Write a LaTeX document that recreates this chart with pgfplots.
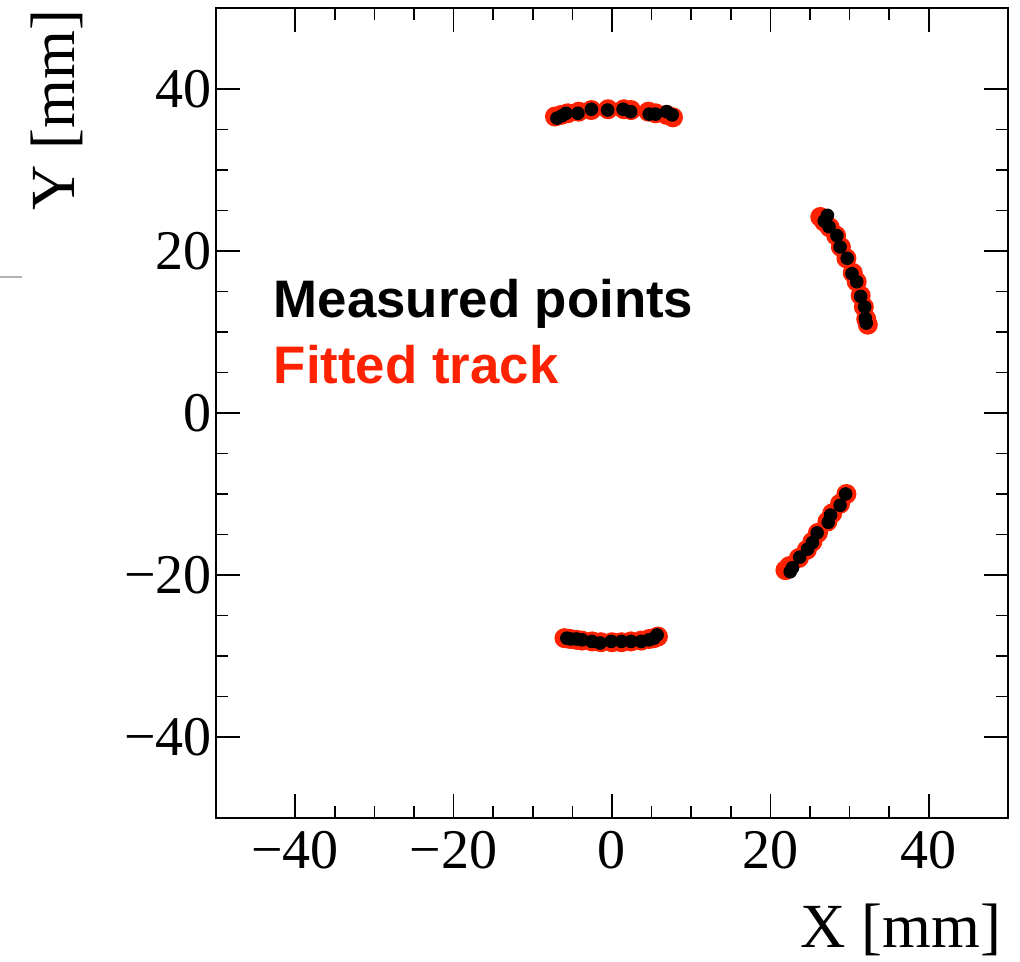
\documentclass[border=0pt]{standalone}
\usepackage{pgfplots}
\pgfplotsset{compat=1.18}
\usepackage{fontspec}
\setmainfont{Liberation Serif}
\newfontfamily\legfont{Liberation Sans}
\definecolor{fitred}{RGB}{255,34,0}
\begin{document}
\begin{tikzpicture}
\begin{axis}[
  name=ax,
  scale only axis,
  width=198pt, height=202.5pt,
  xmin=-50, xmax=50, ymin=-50, ymax=50,
  axis line style={line width=0.5pt},
  xtick={-40,-20,0,20,40},
  xticklabels={−40,−20,0,20,40},
  ytick={-40,-20,0,20,40},
  yticklabels={−40,−20,0,20,40},
  minor tick num=3,
  tick align=inside,
  tick pos=both,
  major tick length=6pt,
  minor tick length=3pt,
  every tick/.style={black, line width=0.4pt},
  tick label style={font=\fontsize{14}{16}\selectfont},
  xticklabel style={yshift=0.3pt},
  yticklabel style={xshift=2.5pt},
  clip=false,
]
% fitted track
\addplot[only marks, mark=*, mark size=2.3pt, fitred, mark options={draw=fitred, fill=fitred}] coordinates {
(-7.2,36.6) (-6.4,36.8) (-5.6,37.0) (-4.2,37.2) (-2.6,37.4) (-0.5,37.5) (1.5,37.5) (2.4,37.4) (4.6,37.2) (5.5,37.0) (6.9,36.8) (7.7,36.5)
(26.3,24.2) (26.8,23.6) (27.5,22.9) (28.3,21.9) (28.9,20.5) (29.6,19.1) (30.4,17.3) (30.9,16.2) (31.4,14.5) (31.8,13.1) (32.1,11.6) (32.3,10.9)
(29.6,-10.0) (28.8,-11.2) (27.8,-12.4) (27.2,-13.4) (26.0,-14.8) (25.3,-15.9) (24.6,-16.9) (23.6,-17.9) (22.4,-18.9) (21.9,-19.4)
(-6.0,-27.8) (-5.3,-27.9) (-4.5,-28.0) (-3.8,-28.1) (-2.5,-28.2) (-1.4,-28.3) (0.0,-28.3) (1.2,-28.3) (2.4,-28.2) (3.7,-28.1) (4.7,-27.9) (5.3,-27.8) (5.8,-27.6)
};
% measured points
\addplot[only marks, mark=*, mark size=1.5pt, black] coordinates {
(-6.95,36.4) (-6.3,36.7) (-5.8,37.0) (-4.3,37.0) (-2.6,37.5) (-0.55,37.4) (1.4,37.5) (2.35,37.2) (4.7,36.9) (5.5,36.9) (6.9,37.2) (7.6,36.8)
(27.2,24.4) (26.8,23.7) (27.4,23.0) (28.4,21.9) (28.8,20.5) (29.7,19.1) (30.3,17.2) (30.9,16.2) (31.4,14.4) (31.9,13.1) (32.0,11.7) (32.1,11.1)
(29.5,-10.0) (28.8,-11.4) (27.6,-12.6) (27.3,-13.5) (25.9,-14.8) (25.3,-16.0) (24.7,-16.8) (23.7,-17.8) (22.8,-19.1) (22.5,-19.6)
(-5.7,-27.8) (-5.2,-27.9) (-4.5,-27.9) (-3.8,-28.0) (-2.55,-28.2) (-1.5,-28.4) (-0.1,-28.2) (1.2,-28.2) (2.4,-28.2) (3.7,-28.2) (4.7,-28.0) (5.3,-27.8) (5.7,-27.4)
};
\node[anchor=base west, inner sep=0pt, font=\legfont\bfseries\fontsize{13.2}{15}\selectfont, black] at (axis cs:-42.8,11.85) {Measured points};
\node[anchor=base west, inner sep=0pt, font=\legfont\bfseries\fontsize{13.2}{15}\selectfont, fitred] at (axis cs:-42.8,3.7) {Fitted track};
\draw[gray!60, line width=0.6pt] (axis cs:-77.3,16.8) -- (axis cs:-74.5,16.8);
\end{axis}
\node[anchor=base east, inner sep=0pt, font=\fontsize{15.7}{18}\selectfont] at ([xshift=-1.5pt,yshift=-32.5pt]ax.south east) {X [mm]};
\node[anchor=north east, rotate=90, inner sep=0pt, font=\fontsize{15.7}{18}\selectfont] at ([xshift=-46.5pt,yshift=-0.2pt]ax.north west) {Y [mm]};
\pgfresetboundingbox
\useasboundingbox ([xshift=-54pt,yshift=-36pt]ax.south west) rectangle ([xshift=3pt,yshift=2pt]ax.north east);
\end{tikzpicture}
\end{document}
